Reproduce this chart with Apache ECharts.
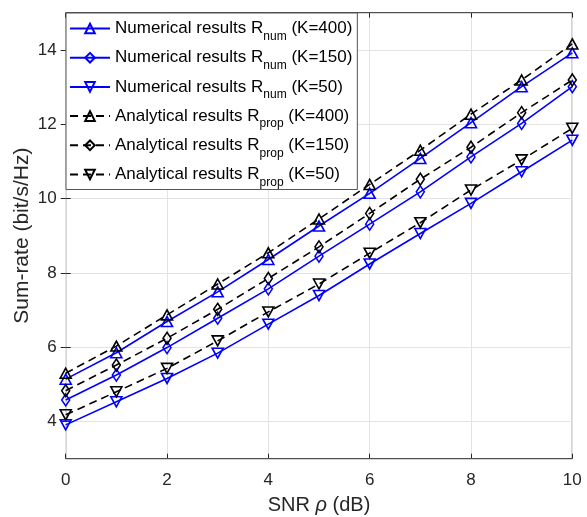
<!DOCTYPE html>
<html><head><meta charset="utf-8">
<script src="https://cdn.jsdelivr.net/npm/echarts@6/dist/echarts.min.js"></script>
<style>html,body{margin:0;padding:0;background:#fff}#c{width:587px;height:517px}</style>
</head><body><div id="c"></div>
<script>
const snr = [0,1,2,3,4,5,6,7,8,9,10];
const numK400 = [5.14,5.85,6.69,7.49,8.36,9.26,10.14,11.08,12.04,13.01,13.92];
const numK150 = [4.58,5.25,5.99,6.78,7.57,8.45,9.31,10.18,11.12,12.02,13.01];
const numK50  = [3.91,4.53,5.16,5.84,6.62,7.39,8.24,9.06,9.87,10.72,11.57];
const anaK400 = [5.30,6.03,6.87,7.70,8.54,9.45,10.38,11.30,12.27,13.19,14.16];
const anaK150 = [4.83,5.52,6.24,7.02,7.85,8.70,9.60,10.52,11.38,12.31,13.19];
const anaK50  = [4.18,4.80,5.43,6.17,6.95,7.70,8.53,9.35,10.23,11.04,11.89];
const xTicks = [0,2,4,6,8,10];
const yTicks = [4,6,8,10,12,14];
const seriesNames = [
  'Numerical results R_num (K=400)',
  'Numerical results R_num (K=150)',
  'Numerical results R_num (K=50)',
  'Analytical results R_prop (K=400)',
  'Analytical results R_prop (K=150)',
  'Analytical results R_prop (K=50)'
];
const FONT = '"Liberation Sans", Arial, Helvetica, sans-serif';
const TXT = '#262626';
const BLUE = '#0000ff';
const BLACK = '#000000';

function pairs(vals){ return snr.map((x,i)=>[x, vals[i]]); }
function mk(name, vals, color, dashed, symbol, rotate, size){
  return {
    name: name, type: 'line', data: pairs(vals),
    symbol: symbol, symbolSize: size, symbolRotate: rotate,
    showSymbol: true, silent: true, animation: false,
    lineStyle: {color: color, width: 1.6, type: dashed ? [8,5] : 'solid'},
    itemStyle: {color: 'rgba(0,0,0,0)', borderColor: color, borderWidth: 1.6},
    emphasis: {disabled: true}
  };
}

function legendFmt(name){
  const m = name.match(/^(.*) R_(\w+) (\(.*\))$/);
  return '{m|' + m[1] + ' R}{s|' + m[2] + '}{m| ' + m[3] + '}';
}

const chart = echarts.init(document.getElementById('c'), null, {renderer: 'canvas'});
chart.setOption({
  backgroundColor: '#ffffff',
  animation: false,
  grid: {left: 65.7, right: 14.7, top: 12.7, bottom: 58.3, show: true,
         outerBoundsMode: 'none', containLabel: false,
         borderColor: TXT, borderWidth: 1, backgroundColor: 'transparent'},
  legend: {
    orient: 'vertical', left: 66, top: 13,
    itemWidth: 40, itemHeight: 12, itemGap: 6.7,
    padding: [7, 5, 1, 3],
    backgroundColor: '#ffffff', borderColor: '#555555', borderWidth: 1,
    selectedMode: false,
    data: seriesNames,
    formatter: legendFmt,
    textStyle: {
      fontFamily: FONT, color: '#000',
      rich: {
        m: {fontSize: 17, fontFamily: FONT, color: '#000', lineHeight: 28},
        s: {fontSize: 12, fontFamily: FONT, color: '#000', lineHeight: 12, verticalAlign: 'bottom'}
      }
    }
  },
  xAxis: [{
    type: 'value', min: 0, max: 10, interval: 2, position: 'bottom',
    name: '{a|SNR }{i|ρ}{a| (dB)}', nameLocation: 'middle', nameGap: 37,
    nameMoveOverlap: false,
    nameTextStyle: {rich: {
      a: {fontSize: 20, fontFamily: FONT, color: TXT},
      i: {fontSize: 20, fontFamily: FONT, color: TXT, fontStyle: 'italic'}
    }},
    axisLine: {show: false},
    axisTick: {show: true, inside: true, length: 5, lineStyle: {color: TXT}},
    axisLabel: {fontSize: 17, fontFamily: FONT, color: TXT, margin: 13},
    splitLine: {show: true, lineStyle: {color: '#e3e3e3', width: 1}}
  }, {
    type: 'value', min: 0, max: 10, interval: 2, position: 'top',
    axisLine: {show: false},
    axisTick: {show: true, inside: true, length: 5, lineStyle: {color: TXT}},
    axisLabel: {show: false}, splitLine: {show: false}
  }],
  yAxis: [{
    type: 'value', min: 3, max: 15, position: 'left',
    name: 'Sum-rate (bit/s/Hz)', nameLocation: 'middle', nameGap: 33,
    nameMoveOverlap: false,
    nameTextStyle: {fontSize: 21, fontFamily: FONT, color: TXT},
    axisLine: {show: false},
    axisTick: {show: true, inside: true, length: 5, lineStyle: {color: TXT}, customValues: yTicks},
    axisLabel: {fontSize: 17, fontFamily: FONT, color: TXT, margin: 9, customValues: yTicks},
    splitLine: {show: true, lineStyle: {color: '#e3e3e3', width: 1}}
  }, {
    type: 'value', min: 3, max: 15, position: 'right',
    axisLine: {show: false},
    axisTick: {show: true, inside: true, length: 5, lineStyle: {color: TXT}, customValues: yTicks},
    axisLabel: {show: false, customValues: yTicks}, splitLine: {show: false}
  }],
  series: [
    mk(seriesNames[0], numK400, BLUE, false, 'triangle', 0, [11,10]),
    mk(seriesNames[1], numK150, BLUE, false, 'diamond', 0, [8,12]),
    mk(seriesNames[2], numK50, BLUE, false, 'triangle', 180, [11,10]),
    mk(seriesNames[3], anaK400, BLACK, true, 'triangle', 0, [11,10]),
    mk(seriesNames[4], anaK150, BLACK, true, 'diamond', 0, [8,12]),
    mk(seriesNames[5], anaK50, BLACK, true, 'triangle', 180, [11,10])
  ]
});
</script>
</body></html>
